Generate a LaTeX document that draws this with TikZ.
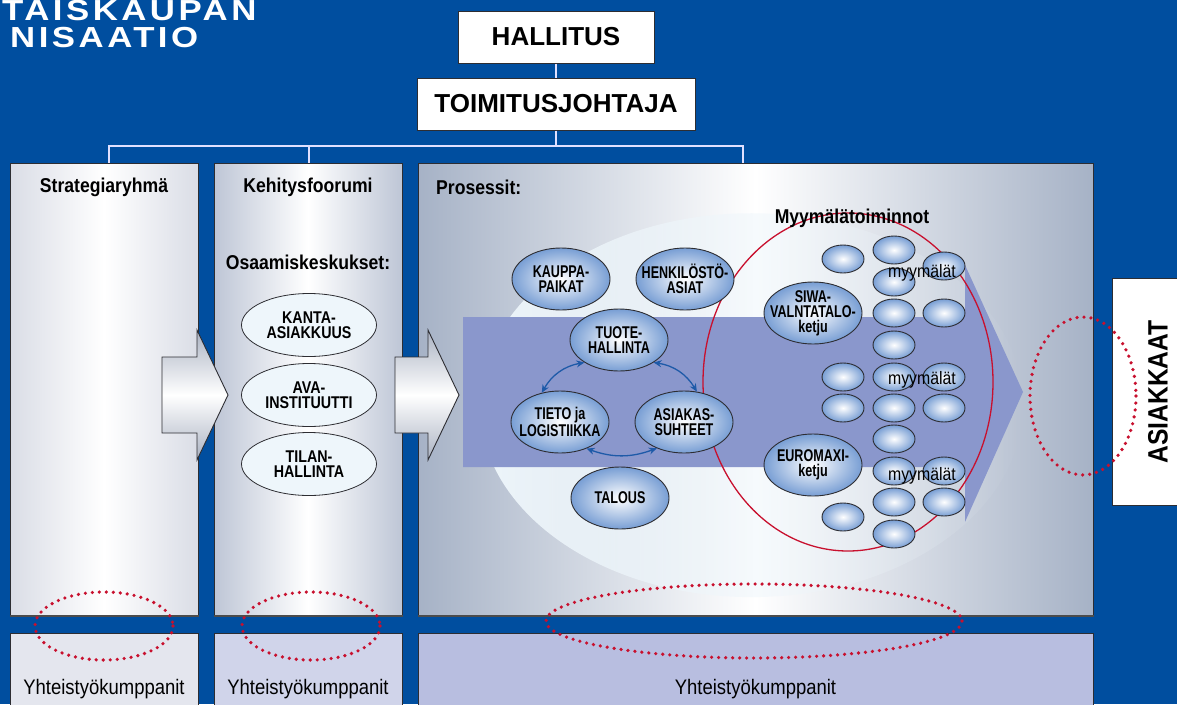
\documentclass[tikz,border=0pt]{standalone}
\usepackage{fontspec}
\setmainfont{Liberation Sans}
\newfontfamily\cnd[FakeStretch=0.74]{Liberation Sans}
\newfontfamily\cndb[FakeStretch=0.84]{Liberation Sans}
\newfontfamily\ttl[FakeStretch=0.88]{Liberation Sans}
\newfontfamily\wdf[FakeStretch=1.2,LetterSpace=12]{Liberation Sans}
\usetikzlibrary{shapes.geometric,arrows.meta,fadings}
\definecolor{bgblue}{RGB}{0,78,159}
\definecolor{edge}{RGB}{45,45,50}
\definecolor{grA}{RGB}{218,221,230}
\definecolor{grB}{RGB}{190,198,214}
\definecolor{grC}{RGB}{166,178,198}
\definecolor{botA}{RGB}{228,230,238}
\definecolor{botB}{RGB}{208,212,234}
\definecolor{botC}{RGB}{184,190,224}
\definecolor{pale}{RGB}{238,246,251}
\definecolor{band}{RGB}{138,151,204}
\definecolor{ellout}{RGB}{120,158,212}
\definecolor{arrblue}{RGB}{30,90,168}
\definecolor{dotred}{RGB}{200,16,46}
\definecolor{arrgray}{RGB}{170,178,194}
\tikzfading[name=fadeR, left color=transparent!0, middle color=transparent!0, right color=transparent!100]
\begin{document}
\begin{tikzpicture}[x=1pt,y=-1pt,
  topbox/.style={draw=edge,line width=1pt,fill=white,inner sep=0pt,
    font=\bfseries\fontsize{26}{26}\selectfont},
  colbox/.style={draw=edge,line width=1pt,inner sep=0pt,rectangle},
  botbox/.style={draw=edge,line width=1pt,inner sep=0pt,rectangle},
  ttlf/.style={font=\ttl\bfseries\fontsize{20}{20}\selectfont,inner sep=0pt},
  ytext/.style={font=\ttl\fontsize{21}{21}\selectfont,inner sep=0pt},
  conn/.style={draw=white!88!blue,line width=1.2pt},
  osa/.style={ellipse,draw=edge,line width=0.8pt,fill=pale,minimum width=135pt,minimum height=63pt,inner sep=0pt},
  osatext/.style={font=\cndb\bfseries\fontsize{17}{15}\selectfont,align=center,inner sep=0pt},
  proc/.style={ellipse,draw=edge,line width=0.9pt,inner color=white,outer color=ellout,minimum width=98pt,minimum height=62pt,inner sep=0pt},
  proctext/.style={font=\cnd\bfseries\fontsize{17}{15}\selectfont,align=center,inner sep=0pt},
  store/.style={ellipse,draw=edge,line width=0.9pt,inner color=white,outer color=ellout,minimum width=42pt,minimum height=28pt,inner sep=0pt},
  mtext/.style={font=\ttl\fontsize{18}{18}\selectfont,inner sep=0pt},
  dbl/.style={{Stealth[length=8pt,width=7pt]}-{Stealth[length=8pt,width=7pt]},draw=arrblue,line width=1.3pt},
  redline/.style={draw=dotred,line width=1.3pt},
  dots/.style={draw=dotred,line width=3.6pt,line cap=round,dash pattern=on 0pt off 7pt},
  bigarrow/.style={draw=edge,line width=0.9pt,top color=arrgray,bottom color=arrgray,middle color=white}
]
\useasboundingbox (0,0) rectangle (1177,704);
\clip (0,0) rectangle (1177,704);
\fill[bgblue] (0,0) rectangle (1177,704);

% title
\node[anchor=base west,text=white,font=\wdf\bfseries\fontsize{29}{29}\selectfont,inner sep=0pt] (t1) at (2,20) {TAISKAUPAN};
\node[anchor=base west,text=white,font=\wdf\bfseries\fontsize{29}{29}\selectfont,inner sep=0pt] (t2) at (10,47) {NISAATIO};

% top boxes
\node[topbox,minimum width=196pt,minimum height=52pt] (hal) at (556,37) {HALLITUS};
\node[topbox,minimum width=278pt,minimum height=52pt] (toim) at (556,104) {TOIMITUSJOHTAJA};

% column boxes
\node[colbox,minimum width=188pt,minimum height=452pt,left color=grA,right color=grA,middle color=white] (strat) at (104,389) {};
\node[colbox,minimum width=188pt,minimum height=452pt,left color=grB,right color=grB,middle color=white] (keh) at (308,389) {};
\node[colbox,minimum width=675pt,minimum height=452pt,left color=grC,right color=grC,middle color=white] (pros) at (755.5,389) {};
\foreach \b in {strat,keh,pros}{\draw[draw=black!70,line width=2pt] (\b.south west) -- (\b.south east);}

% bottom boxes
\node[botbox,fill=botA,minimum width=188pt,minimum height=80pt] (bA) at (104,673) {};
\node[botbox,fill=botB,minimum width=188pt,minimum height=80pt] (bB) at (308,673) {};
\node[botbox,fill=botC,minimum width=675pt,minimum height=80pt] (bC) at (755.5,673) {};
\node[ytext] (yA) at (104,689) {Yhteistyökumppanit};
\node[ytext] (yB) at (308,689) {Yhteistyökumppanit};
\node[ytext] (yC) at (755.5,689) {Yhteistyökumppanit};

% connectors
\coordinate (j) at (556,146);
\draw[conn] (hal.south) -- (toim.north);
\draw[conn] (toim.south) -- (j);
\draw[conn] ([xshift=5pt]strat.north) |- (j);
\draw[conn] (j) -| ([xshift=-12.5pt]pros.north);
\draw[conn] ([xshift=1pt]keh.north) -- ([xshift=1pt]keh.north |- j);

% titles
\node[ttlf] (strat-t) at (104,187) {Strategiaryhmä};
\node[ttlf] (keh-t) at (308,187) {Kehitysfoorumi};
\node[ttlf] (osa-t) at (308,262) {Osaamiskeskukset:};
\node[ttlf,anchor=west] (pros-t) at (436,187) {Prosessit:};

% osaamiskeskukset
\node[osa] (kanta) at (309,325) {};
\node[osatext] (kanta-t) at (kanta) {KANTA-\\ASIAKKUUS};
\node[osa] (ava) at (309,395) {};
\node[osatext] (ava-t) at (ava) {AVA-\\INSTITUUTTI};
\node[osa] (tilan) at (309,464) {};
\node[osatext] (tilan-t) at (tilan) {TILAN-\\HALLINTA};

% prosessit background
\fill[pale,path fading=fadeR] (752,405) ellipse [x radius=272, y radius=192];
\path[fill=band] (463,317) -- (965,317) -- (965,265) -- (1023,392) -- (965,522) -- (965,467) -- (463,467) -- cycle;
\draw[redline] (848,382) ellipse [x radius=145, y radius=169];

% process ellipses
\node[proc] (kauppa) at (561,279) {};
\node[proctext] (kauppa-t) at (kauppa) {KAUPPA-\\PAIKAT};
\node[proc] (henk) at (685,279) {};
\node[proctext] (henk-t) at (henk) {HENKILÖSTÖ-\\ASIAT};
\node[proc] (tuote) at (619,340) {};
\node[proctext] (tuote-t) at (tuote) {TUOTE-\\HALLINTA};
\node[proc] (tieto) at (560,422) {};
\node[proctext] (tieto-t) at (tieto) {TIETO ja\\LOGISTIIKKA};
\node[proc] (asiak) at (684,422) {};
\node[proctext] (asiak-t) at (asiak) {ASIAKAS-\\SUHTEET};
\node[proc] (talous) at (620,498) {};
\node[proctext] (talous-t) at (talous) {TALOUS};

\draw[dbl] (tuote.213) to[bend right=25] (tieto.122);
\draw[dbl] (tuote.327) to[bend left=25] (asiak.67);
\draw[dbl] (tieto.315) to[bend right=20] (asiak.224);

% chains
\node[proc] (siwa) at (813,313) {};
\node[proctext] (siwa-t) at (siwa) {SIWA-\\VALNTATALO-\\ketju};
\node[proc] (euro) at (813,465) {};
\node[proctext] (euro-t) at (euro) {EUROMAXI-\\ketju};

% stores
\foreach \x/\y [count=\i] in {843/259,843/377,843/408,843/517,
  894/250,894/282,894/313,894/345,894/377,894/408,894/439,894/471,894/502,894/534,
  944/266,944/313,944/377,944/408,944/471,944/502}
  {\node[store] (s\i) at (\x,\y) {};}
\node[mtext] (m1) at (922,273) {myymälät};
\node[mtext] (m2) at (922,380) {myymälät};
\node[mtext] (m3) at (922,476) {myymälät};
\node[ttlf] (myy-t) at (852,218) {Myymälätoiminnot};

% big arrows between columns
\path[bigarrow] (162,357) -- (197,357) -- (197,330) -- (228,395) -- (197,460) -- (197,433) -- (162,433) -- cycle;
\path[bigarrow] (395,357) -- (428,357) -- (428,330) -- (459,395) -- (428,460) -- (428,433) -- (395,433) -- cycle;

% customers
\node[draw=edge,line width=1pt,fill=white,minimum width=80pt,minimum height=227pt,inner sep=0pt] (asi) at (1152,391.5) {};
\node[rotate=90,font=\ttl\bfseries\fontsize{28}{28}\selectfont,inner sep=0pt] (asi-t) at (1158,392) {ASIAKKAAT};

% red dotted ellipses
\draw[dots] (104,626) ellipse [x radius=69, y radius=34];
\draw[dots] (311,626) ellipse [x radius=69, y radius=34];
\draw[dots] (754,621) ellipse [x radius=208, y radius=37];
\draw[dots] (1083,396) ellipse [x radius=53, y radius=79];
\end{tikzpicture}
\end{document}
